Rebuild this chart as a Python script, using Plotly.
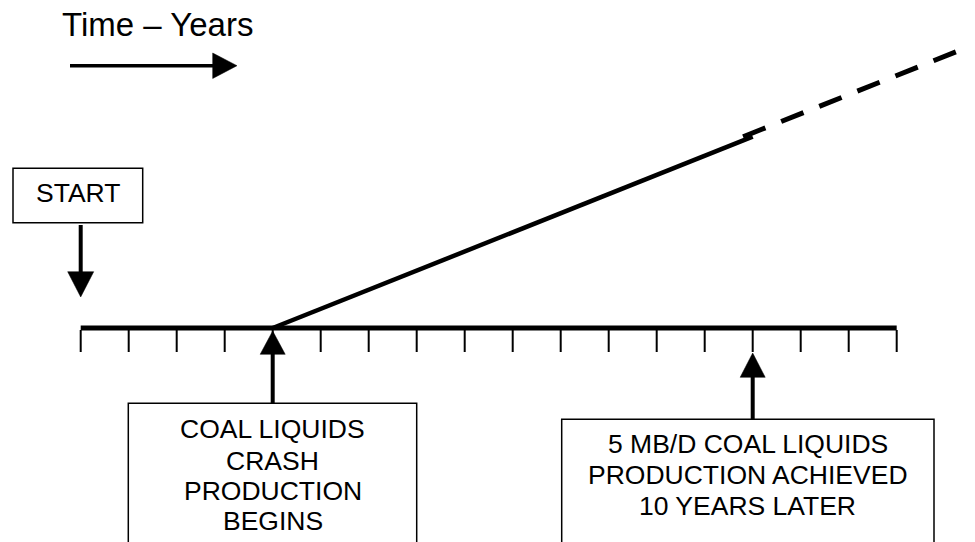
import plotly.graph_objects as go

# ---------------- data ----------------
tick_years = list(range(0, 18))          # one tick per year on the time line
start_year = 0
begin_year = 4                           # crash production begins
achieved_year = 14                       # 5 MB/D achieved 10 years later
production_years = [4, 14]
production_mbd = [0, 5]
projection_years = [13.8, 18.7]
projection_mbd = [5.0, 7.45]

title_text = "Time – Years"
start_label = "START"
begin_lines = ["COAL LIQUIDS", "CRASH", "PRODUCTION", "BEGINS"]
achieved_lines = ["5 MB/D COAL LIQUIDS", "PRODUCTION ACHIEVED", "10 YEARS LATER"]

# ---------------- layout geometry (in screen pixels) ----------------
VW, VH = 975, 542          # browser window
OFF = 8                    # default page margin around the plot div
W, H = VW - OFF, VH - OFF  # figure size
X0_PX, PX_PER_YEAR = 80.7, 48.0
Y0_PX, PX_PER_MBD = 328.0, 38.26
x_range = [(OFF - X0_PX) / PX_PER_YEAR, (VW - X0_PX) / PX_PER_YEAR]
y_range = [(Y0_PX - VH) / PX_PER_MBD, (Y0_PX - OFF) / PX_PER_MBD]


def X(px):
    return (px - X0_PX) / PX_PER_YEAR


def Y(py):
    return (Y0_PX - py) / PX_PER_MBD


def dx(px):
    return px / PX_PER_YEAR


FONT = "Liberation Sans, Arial, sans-serif"
BLACK = "#000000"

fig = go.Figure()

# time line
fig.add_trace(go.Scatter(x=[tick_years[0], tick_years[-1]], y=[0, 0], mode="lines",
                         line=dict(color=BLACK, width=5), hoverinfo="skip"))
# ticks
tx, ty = [], []
for t in tick_years:
    tx += [t, t, None]
    ty += [Y(330), Y(352), None]
fig.add_trace(go.Scatter(x=tx, y=ty, mode="lines", line=dict(color=BLACK, width=2),
                         hoverinfo="skip"))
# production ramp
fig.add_trace(go.Scatter(x=production_years, y=production_mbd, mode="lines",
                         line=dict(color=BLACK, width=4.5), hoverinfo="skip"))
# projection (dashed)
fig.add_trace(go.Scatter(x=projection_years, y=projection_mbd, mode="lines",
                         line=dict(color=BLACK, width=5, dash="24px,17px"), hoverinfo="skip"))

shapes = []


def seg(x0, y0, x1, y1, w):
    shapes.append(dict(type="line", x0=x0, y0=y0, x1=x1, y1=y1, xref="x", yref="y",
                       line=dict(color=BLACK, width=w)))


def tri(pts):
    path = "M " + " L ".join(f"{a},{b}" for a, b in pts) + " Z"
    shapes.append(dict(type="path", path=path, xref="x", yref="y",
                       fillcolor=BLACK, line=dict(color=BLACK, width=0.5)))


def rect(l, t, r, b, w=1.5):
    shapes.append(dict(type="rect", x0=X(l), x1=X(r), y0=Y(t), y1=Y(b), xref="x", yref="y",
                       line=dict(color=BLACK, width=w), fillcolor="rgba(0,0,0,0)"))


# Time arrow (horizontal)
seg(X(70), Y(65.7), X(214), Y(65.7), 3.5)
tri([(X(212.7), Y(53)), (X(237), Y(65.7)), (X(212.7), Y(78.5))])

# START box and arrow
rect(13, 168.3, 142.7, 222.7)
seg(start_year, Y(225), start_year, Y(273), 4)
tri([(start_year - dx(13), Y(271.7)), (start_year + dx(13), Y(271.7)), (start_year, Y(297))])

# Begin arrow
seg(begin_year, Y(352), begin_year, Y(403.3), 4)
tri([(begin_year - dx(12.5), Y(354.3)), (begin_year + dx(12.5), Y(354.3)), (begin_year, Y(331))])
rect(128.3, 403.3, 416.7, 560)

# Achieved arrow
seg(achieved_year, Y(375), achieved_year, Y(419.3), 4)
tri([(achieved_year - dx(12.5), Y(377.3)), (achieved_year + dx(12.5), Y(377.3)), (achieved_year, Y(353))])
rect(561.7, 419.3, 934, 560)

annotations = []


def label(text, xpx, ypx, size):
    annotations.append(dict(text=text, x=(xpx - OFF) / W, y=1 - (ypx - OFF) / H,
                            xref="paper", yref="paper",
                            showarrow=False, xanchor="center", yanchor="middle",
                            font=dict(family=FONT, size=size, color=BLACK)))


label(title_text, 157, 25, 33)
label(start_label, 78, 193, 26.5)
for txt, yy in zip(begin_lines, [428.6, 460.5, 491, 520.5]):
    label(txt, 272.5, yy, 26.5)
for txt, yy in zip(achieved_lines, [444.2, 475, 505.8]):
    label(txt, 747.5, yy, 26.5)

fig.update_layout(
    width=W, height=H, margin=dict(l=0, r=0, t=0, b=0),
    paper_bgcolor="white", plot_bgcolor="white", showlegend=False,
    xaxis=dict(range=x_range, visible=False, fixedrange=True),
    yaxis=dict(range=y_range, visible=False, fixedrange=True),
    shapes=shapes, annotations=annotations,
)

fig.write_html("out.html")
